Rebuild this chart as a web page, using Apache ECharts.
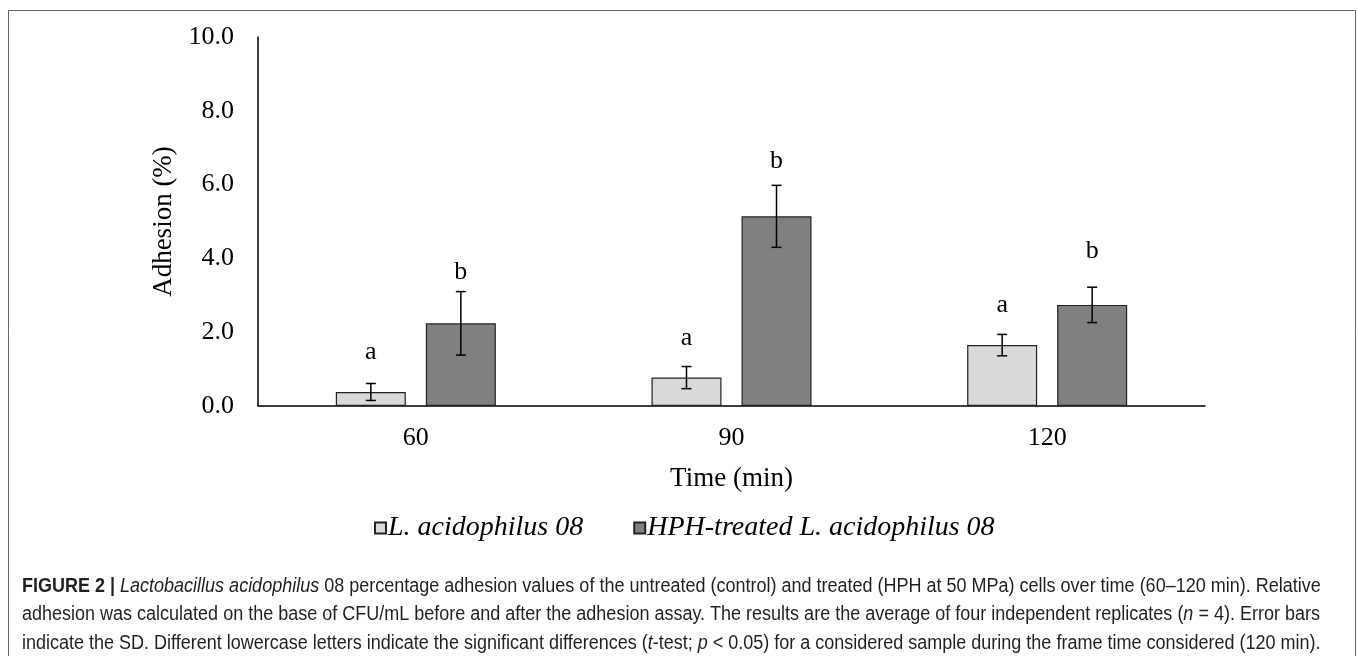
<!DOCTYPE html>
<html><head><meta charset="utf-8">
<script src="https://cdn.jsdelivr.net/npm/echarts@6/dist/echarts.min.js"></script>
<style>html,body{margin:0;padding:0;background:#fff}#c{width:1358px;height:656px}</style>
</head><body><div id="c"></div>
<script>
const categories = ['60', '90', '120'];
const controlMean = [0.38, 0.77, 1.65];
const controlSD = [0.23, 0.30, 0.29];
const treatedMean = [2.24, 5.14, 2.74];
const treatedSD = [0.86, 0.84, 0.48];
const controlLetters = ['a', 'a', 'a'];
const treatedLetters = ['b', 'b', 'b'];
const controlLetterAt = [1.46, 1.84, 2.74];
const treatedLetterAt = [3.63, 6.63, 4.20];
const yTicks = [0, 2, 4, 6, 8, 10];

const serif = 'Liberation Serif, Times New Roman, serif';
const sans = 'Liberation Sans, Arial, sans-serif';
const chart = echarts.init(document.getElementById('c'));

function errSeries(name, means, sds, letters, letterAt, offset) {
  return {
    type: 'custom', name: name + ' err', silent: true, z: 5,
    data: means.map((m, i) => [i, m, sds[i], letterAt[i]]),
    renderItem: function (params, api) {
      const i = api.value(0), m = api.value(1), s = api.value(2), la = api.value(3);
      const top = api.coord([i, m + s]);
      const bot = api.coord([i, m - s]);
      const lp = api.coord([i, la]);
      const x = top[0] + offset;
      const cap = 5;
      return {
        type: 'group', children: [
          { type: 'line', shape: { x1: x, y1: top[1], x2: x, y2: bot[1] }, style: { stroke: '#000', lineWidth: 1.5 } },
          { type: 'line', shape: { x1: x - cap, y1: top[1], x2: x + cap, y2: top[1] }, style: { stroke: '#000', lineWidth: 1.5 } },
          { type: 'line', shape: { x1: x - cap, y1: bot[1], x2: x + cap, y2: bot[1] }, style: { stroke: '#000', lineWidth: 1.5 } },
          { type: 'text', x: x, y: lp[1], style: { text: letters[params.dataIndex], font: '26px ' + serif, fill: '#000', align: 'center', verticalAlign: 'middle' } }
        ]
      };
    }
  };
}

function capRich(size) {
  return {
    b: { font: 'bold ' + size + 'px ' + sans, fill: '#231f20' },
    i: { font: 'italic ' + size + 'px ' + sans, fill: '#231f20' },
    n: { font: size + 'px ' + sans, fill: '#231f20' }
  };
}
const capLines = [
  '{b|FIGURE 2 | }{i|Lactobacillus acidophilus}{n| 08 percentage adhesion values of the untreated (control) and treated (HPH at 50 MPa) cells over time (60–120 min). Relative}',
  '{n|adhesion was calculated on the base of CFU/mL before and after the adhesion assay. The results are the average of four independent replicates (}{i|n}{n| = 4). Error bars}',
  '{n|indicate the SD. Different lowercase letters indicate the significant differences (}{i|t}{n|-test; }{i|p}{n| < 0.05) for a considered sample during the frame time considered (120 min).}'
];
const capY = [586, 614, 643];

chart.setOption({
  animation: false,
  grid: { left: 258, right: 153, top: 37, bottom: 250 },
  legend: {
    left: 369, top: 509, itemWidth: 11, itemHeight: 11, itemGap: 50,
    icon: 'rect',
    textStyle: { fontFamily: serif, fontStyle: 'italic', fontSize: 28, color: '#000', padding: [0, 0, 0, -3] },
    data: ['L. acidophilus 08', 'HPH-treated L. acidophilus 08']
  },
  xAxis: {
    type: 'category', data: categories,
    name: 'Time (min)', nameLocation: 'middle', nameGap: 59,
    nameTextStyle: { fontFamily: serif, fontSize: 27, color: '#000' },
    axisLine: { lineStyle: { color: '#000', width: 1.5 } },
    axisTick: { show: false },
    axisLabel: { fontFamily: serif, fontSize: 26, color: '#000', margin: 19 }
  },
  yAxis: {
    type: 'value', min: 0, max: 10, interval: 2,
    name: 'Adhesion (%)', nameLocation: 'middle', nameGap: 77, nameRotate: 90,
    nameTextStyle: { fontFamily: serif, fontSize: 27, color: '#000' },
    axisLine: { show: true, lineStyle: { color: '#000', width: 1.5 } },
    axisTick: { show: false },
    splitLine: { show: false },
    axisLabel: { fontFamily: serif, fontSize: 26, color: '#000', margin: 24, formatter: v => yTicks.includes(v) ? v.toFixed(1) : '' }
  },
  series: [
    { type: 'bar', name: 'L. acidophilus 08', data: controlMean, barWidth: 70, barGap: '28.6%',
      itemStyle: { color: '#d9d9d9', borderColor: '#222', borderWidth: 1.2 } },
    { type: 'bar', name: 'HPH-treated L. acidophilus 08', data: treatedMean, barWidth: 70, barGap: '28.6%',
      itemStyle: { color: '#808080', borderColor: '#222', borderWidth: 1.2 } },
    errSeries('c', controlMean, controlSD, controlLetters, controlLetterAt, -45),
    errSeries('t', treatedMean, treatedSD, treatedLetters, treatedLetterAt, 45)
  ],
  graphic: [
    { type: 'rect', shape: { x: 8.5, y: 10.5, width: 1347, height: 660 }, style: { fill: 'none', stroke: '#666', lineWidth: 1 }, silent: true }
  ].concat(capLines.map((t, k) => ({
    type: 'text', x: 22, y: capY[k], scaleX: 0.9, silent: true,
    style: { text: t, rich: capRich(20), verticalAlign: 'middle' }
  })))
});
</script></body></html>
